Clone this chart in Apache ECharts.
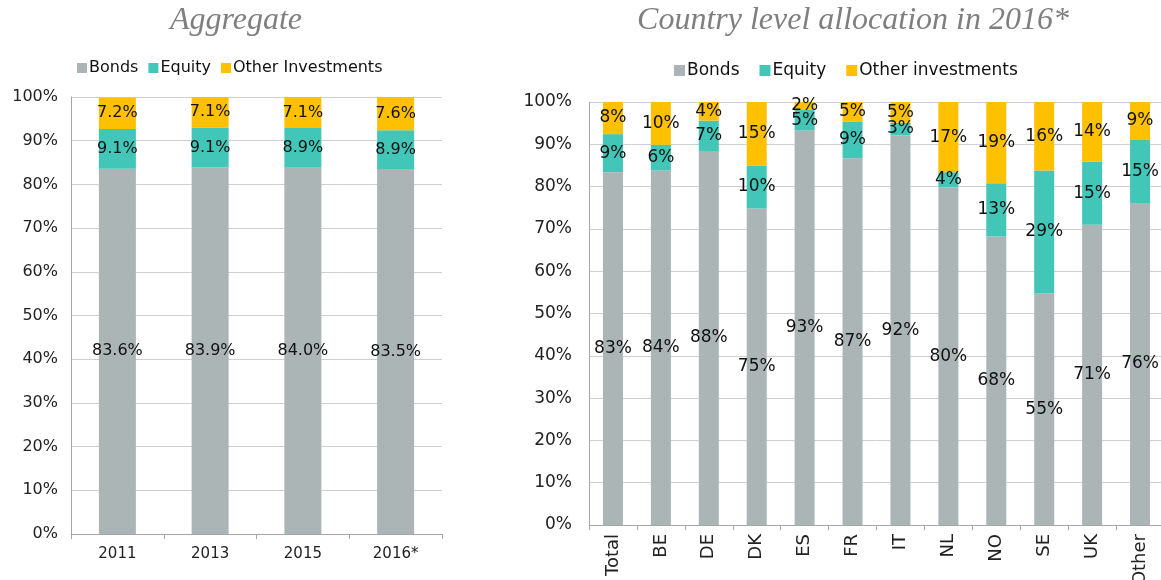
<!DOCTYPE html>
<html>
<head>
<meta charset="utf-8">
<script src="https://cdn.jsdelivr.net/npm/echarts@6/dist/echarts.min.js"></script>
<style>
  html, body { margin: 0; padding: 0; background: #fff; }
  #chart { width: 1161px; height: 580px; }
</style>
</head>
<body>
<div id="chart"></div>
<script>
const years = ['2011', '2013', '2015', '2016*'];
const aggBonds = [83.6, 83.9, 84.0, 83.5];
const aggEquity = [9.1, 9.1, 8.9, 8.9];
const aggOther = [7.2, 7.1, 7.1, 7.6];

const countries = ['Total', 'BE', 'DE', 'DK', 'ES', 'FR', 'IT', 'NL', 'NO', 'SE', 'UK', 'Other'];
const cBonds = [83.4, 83.8, 88.4, 74.8, 93.3, 86.7, 92.1, 79.8, 68.2, 54.7, 71.0, 76.1];
const cEquity = [9.0, 6.1, 7.2, 10.2, 4.8, 8.6, 3.0, 3.6, 12.6, 29.1, 14.9, 14.9];
const cOther = [7.6, 10.1, 4.4, 15.0, 1.9, 4.7, 4.9, 16.6, 19.2, 16.2, 14.1, 9.0];

const C_BONDS = '#abb5b6';
const C_EQUITY = '#41c6b8';
const C_OTHER = '#ffc000';
const FONT = 'DejaVu Sans';

const chart = echarts.init(document.getElementById('chart'));

const yAxisBase = (gi, size, margin) => ({
  type: 'value',
  gridIndex: gi,
  min: 0,
  max: 100,
  interval: 10,
  axisLine: { show: true, lineStyle: { color: '#a6a6a6' } },
  axisTick: { show: false },
  axisLabel: { formatter: '{value}%', color: '#222', fontFamily: FONT, fontSize: size, margin: margin },
  splitLine: { lineStyle: { color: '#d0d0d0', width: 1 } }
});

const barSeries = (name, data, color, gi, width, size, fmt) => ({
  name: name,
  type: 'bar',
  stack: 's' + gi,
  xAxisIndex: gi,
  yAxisIndex: gi,
  data: data,
  barWidth: width,
  itemStyle: { color: color },
  label: {
    show: true,
    position: 'inside',
    color: '#111',
    fontFamily: FONT,
    fontSize: size,
    formatter: p => fmt(p.value)
  }
});

const fmt1 = v => v.toFixed(1) + '%';
const fmt0 = v => Math.round(v) + '%';

const titleStyle = { fontFamily: 'Liberation Serif', fontStyle: 'italic', fontWeight: 'normal', fontSize: 32, color: '#7f7f7f' };

chart.setOption({
  animation: false,
  title: [
    { text: 'Aggregate', left: 231, top: 0, textAlign: 'center', textStyle: titleStyle },
    { text: 'Country level allocation in 2016*', left: 848, top: 0, textAlign: 'center', textStyle: titleStyle }
  ],
  legend: [
    {
      data: ['Bonds', 'Equity', 'Other Investments'],
      left: 72, top: 55,
      icon: 'rect', itemWidth: 10, itemHeight: 10, itemGap: 10,
      textStyle: { fontFamily: FONT, fontSize: 16, color: '#111', padding: [0, 0, 0, -3] }
    },
    {
      data: ['Bonds', 'Equity', 'Other investments'],
      left: 669, top: 57,
      icon: 'rect', itemWidth: 11, itemHeight: 11, itemGap: 20,
      textStyle: { fontFamily: FONT, fontSize: 17, color: '#111', padding: [0, 0, 0, -3] }
    }
  ],
  grid: [
    { left: 71, top: 97, width: 371, height: 437, outerBoundsMode: 'none', containLabel: false },
    { left: 589, top: 102, width: 575, height: 423, outerBoundsMode: 'none', containLabel: false }
  ],
  xAxis: [
    {
      type: 'category', gridIndex: 0, data: years,
      axisLine: { lineStyle: { color: '#a6a6a6' } },
      axisTick: { show: true, length: 5, lineStyle: { color: '#a6a6a6' } },
      axisLabel: { color: '#222', fontFamily: FONT, fontSize: 15, margin: 13 }
    },
    {
      type: 'category', gridIndex: 1, data: countries,
      axisLine: { lineStyle: { color: '#a6a6a6' } },
      axisTick: { show: true, length: 5, lineStyle: { color: '#a6a6a6' } },
      axisLabel: { color: '#222', fontFamily: FONT, fontSize: 18, rotate: 90, margin: 9, interval: 0 }
    }
  ],
  yAxis: [yAxisBase(0, 16, 13), yAxisBase(1, 17, 17)],
  series: [
    barSeries('Bonds', aggBonds, C_BONDS, 0, 37, 16, fmt1),
    barSeries('Equity', aggEquity, C_EQUITY, 0, 37, 16, fmt1),
    barSeries('Other Investments', aggOther, C_OTHER, 0, 37, 16, fmt1),
    barSeries('Bonds', cBonds, C_BONDS, 1, 20, 17, fmt0),
    barSeries('Equity', cEquity, C_EQUITY, 1, 20, 17, fmt0),
    barSeries('Other investments', cOther, C_OTHER, 1, 20, 17, fmt0)
  ]
});
</script>
</body>
</html>
